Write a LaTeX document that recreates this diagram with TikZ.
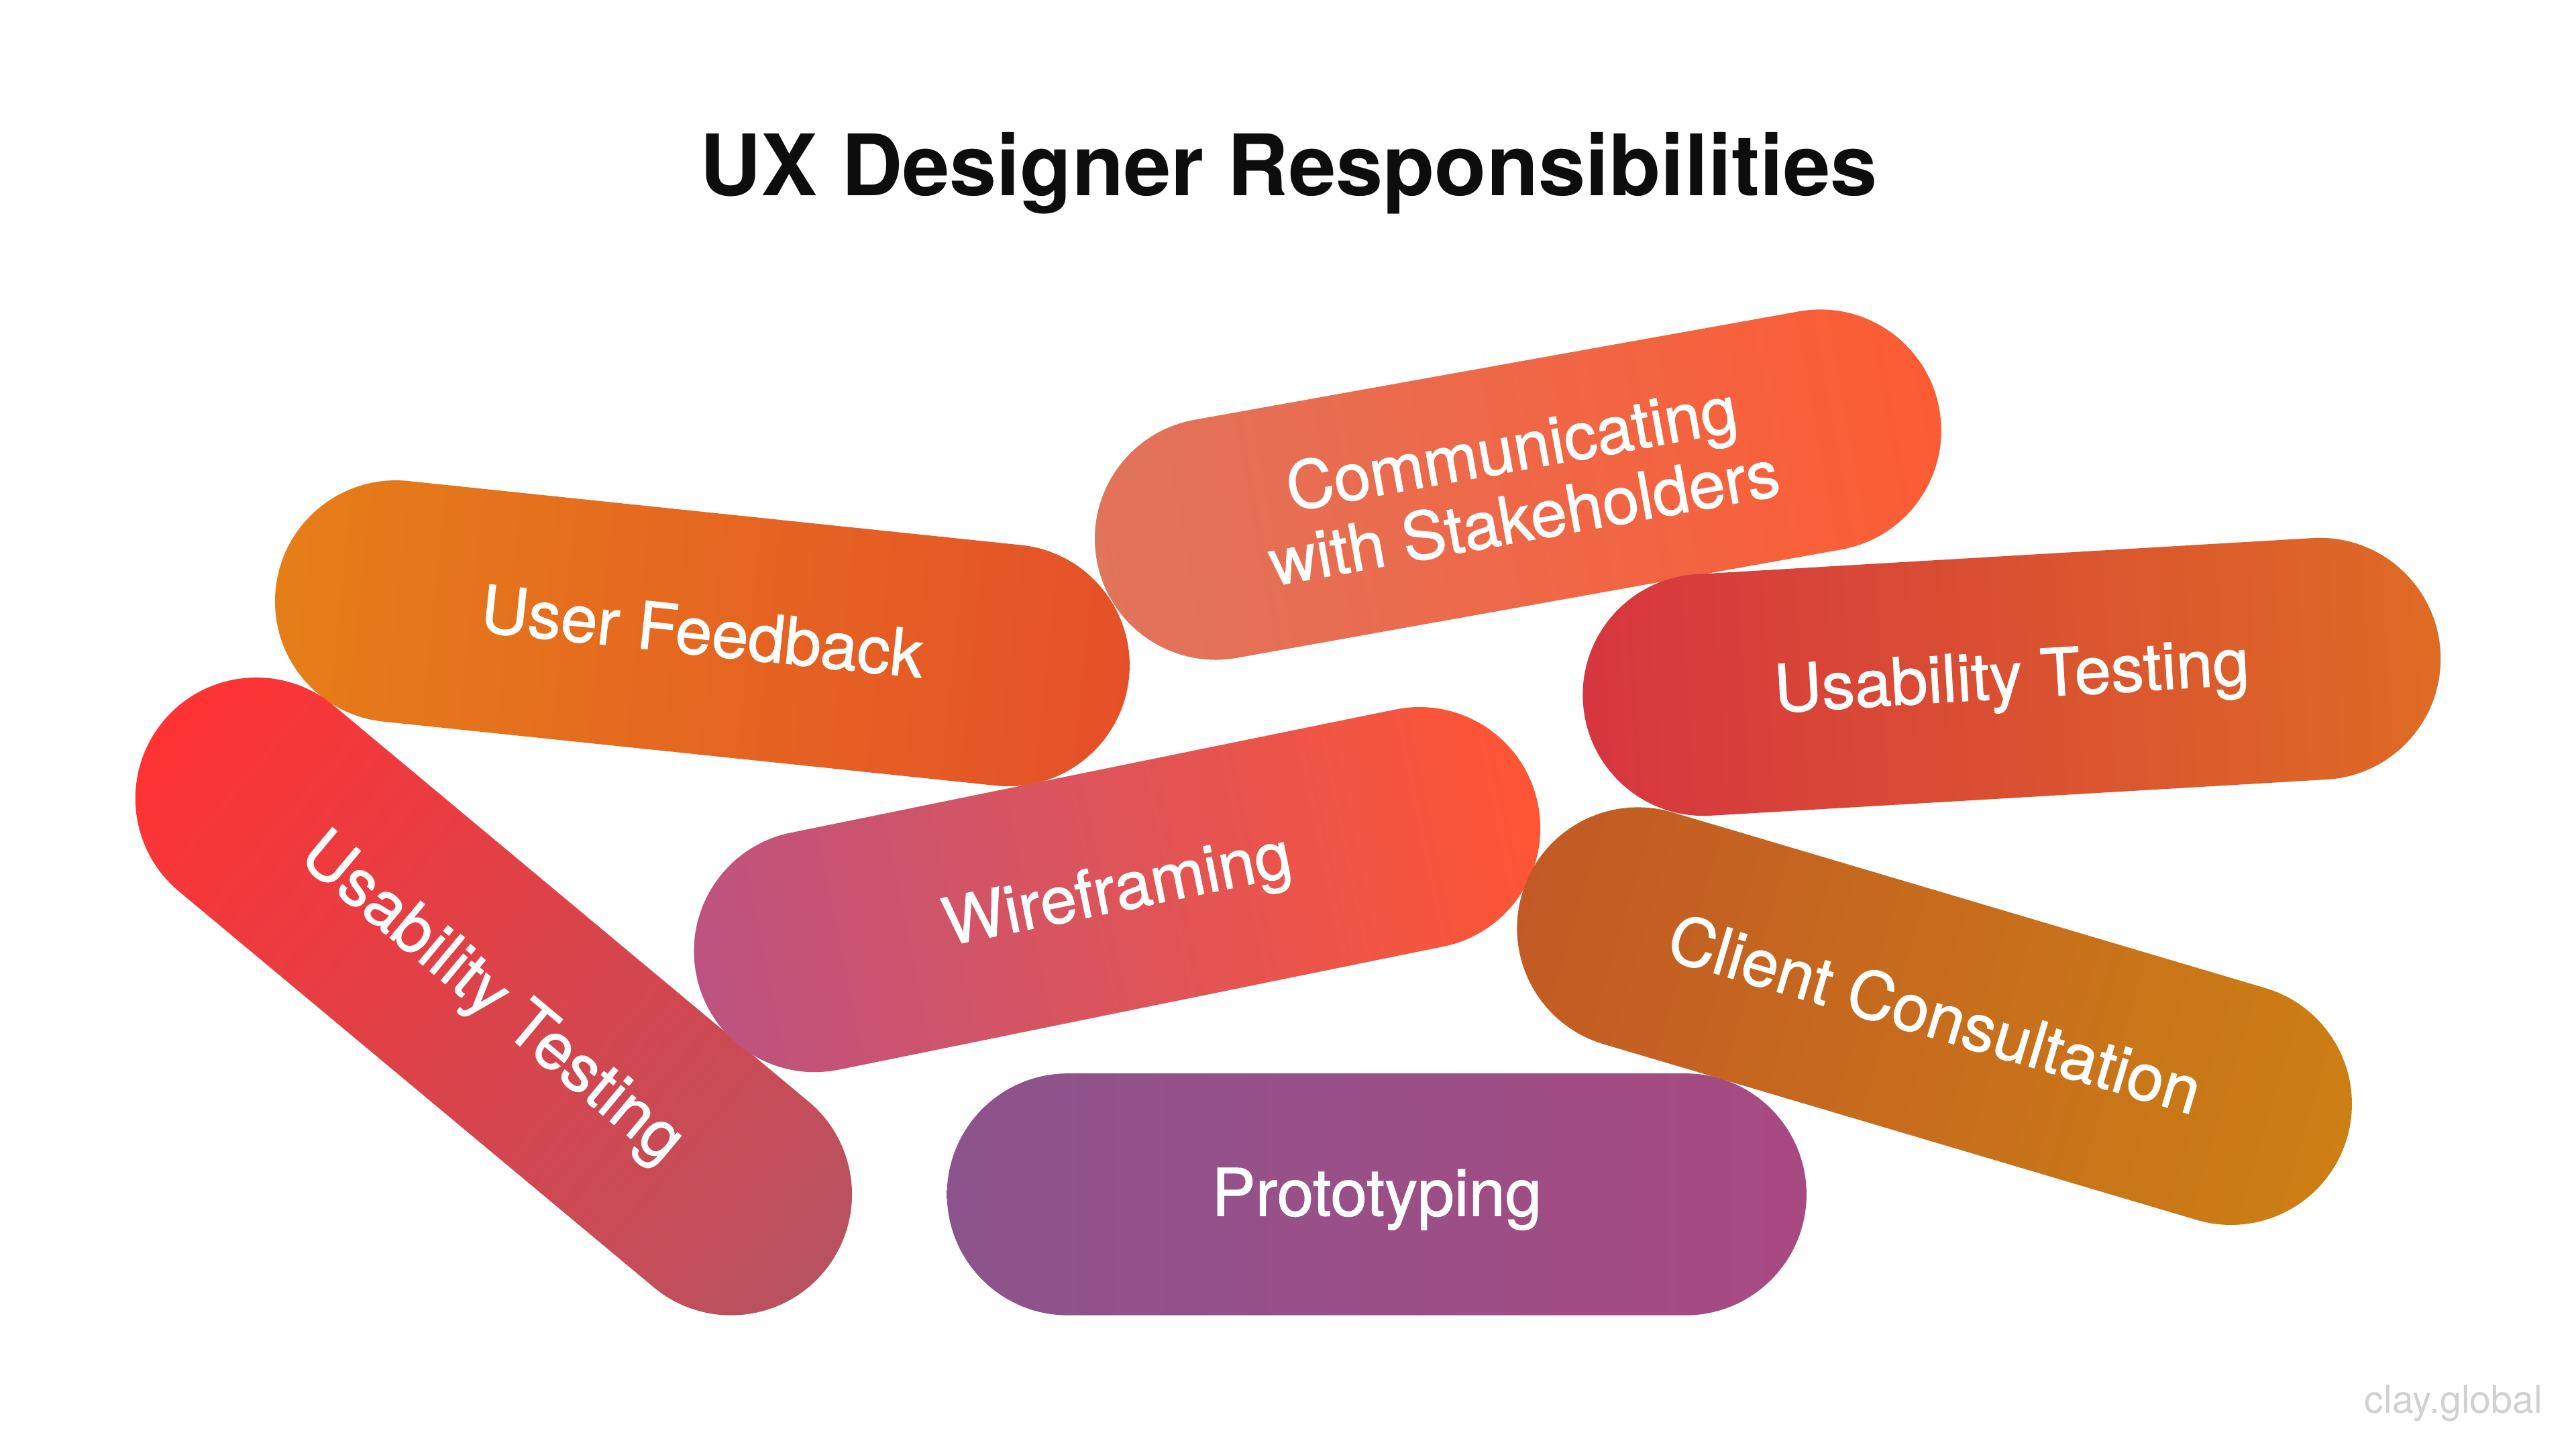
\documentclass[tikz,border=0pt]{standalone}
\usepackage{fontspec}
\setmainfont{TeX Gyre Heros}
\newfontfamily\pillfont[FakeBold=1.1]{TeX Gyre Heros}
\usetikzlibrary{shapes.misc}
\tikzset{
  pillbox/.style={rounded rectangle, inner sep=0pt, minimum height=73.6pt, text=white, font=\pillfont\fontsize{20}{21.5}\selectfont},
  headline/.style={font=\bfseries\fontsize{25.8}{30}\selectfont, text=black!95},
  mark label/.style={font=\fontsize{11.7}{14}\selectfont, text=black!18, inner sep=0pt}
}
\newcommand{\pillat}[8]{%
  \pgfmathsetmacro{\pillang}{atan2(-(#5-#3),#4-#2)}%
  \pgfmathsetmacro{\pillen}{0.5*veclen(#4-#2,#5-#3)+73.6}%
  \pgfmathsetmacro{\pillx}{(#2+#4)/2}%
  \pgfmathsetmacro{\pilly}{(#3+#5)/2}%
  \begin{scope}[transform canvas={rotate around={\pillang:(\pillx,\pilly)}}]
  \node[pillbox, minimum width=\pillen pt, left color=#6, right color=#7] (#1) at (\pillx,\pilly) {\raisebox{-7.4pt}[10pt][10pt]{\begin{tabular}{@{}c@{}}#8\end{tabular}}};%
  \end{scope}%
}
\definecolor{ca}{HTML}{E0745C}\definecolor{cb}{HTML}{FC5C33}
\definecolor{fa}{HTML}{E57E18}\definecolor{fb}{HTML}{E55029}
\definecolor{ua}{HTML}{D6363F}\definecolor{ub}{HTML}{DE6B24}
\definecolor{wa}{HTML}{BC5380}\definecolor{wb}{HTML}{FF5533}
\definecolor{ka}{HTML}{C25A25}\definecolor{kb}{HTML}{CC7F14}
\definecolor{la}{HTML}{FF3333}\definecolor{lb}{HTML}{B85260}
\definecolor{pa}{HTML}{8C548C}\definecolor{pb}{HTML}{A84A82}
\begin{document}
\begin{tikzpicture}[x=0.5pt,y=-0.5pt]
\useasboundingbox (0,0) rectangle (1568,882);
\fill[white] (0,0) rectangle (1568,882);
\node[headline] (title) at (784.5,105.5) {UX Designer Responsibilities};
\pillat{feedback}{241}{366}{614}{405}{fa}{fb}{User Feedback}
\pillat{comm}{740}{328}{1108}{262}{ca}{cb}{Communicating\\with Stakeholders}
\pillat{testr}{1037}{423}{1412}{401}{ua}{ub}{Usability Testing}
\pillat{testl}{156}{486}{445}{727}{la}{lb}{Usability Testing}
\pillat{wire}{496}{579}{864}{504}{wa}{wb}{Wireframing}
\pillat{proto}{650}{727}{1026}{727}{pa}{pb}{Prototyping}
\pillat{client}{997}{565}{1358}{672}{ka}{kb}{Client Consultation}
\node[mark label, anchor=east] (mark) at (1548,854) {clay.global};
\end{tikzpicture}
\end{document}
